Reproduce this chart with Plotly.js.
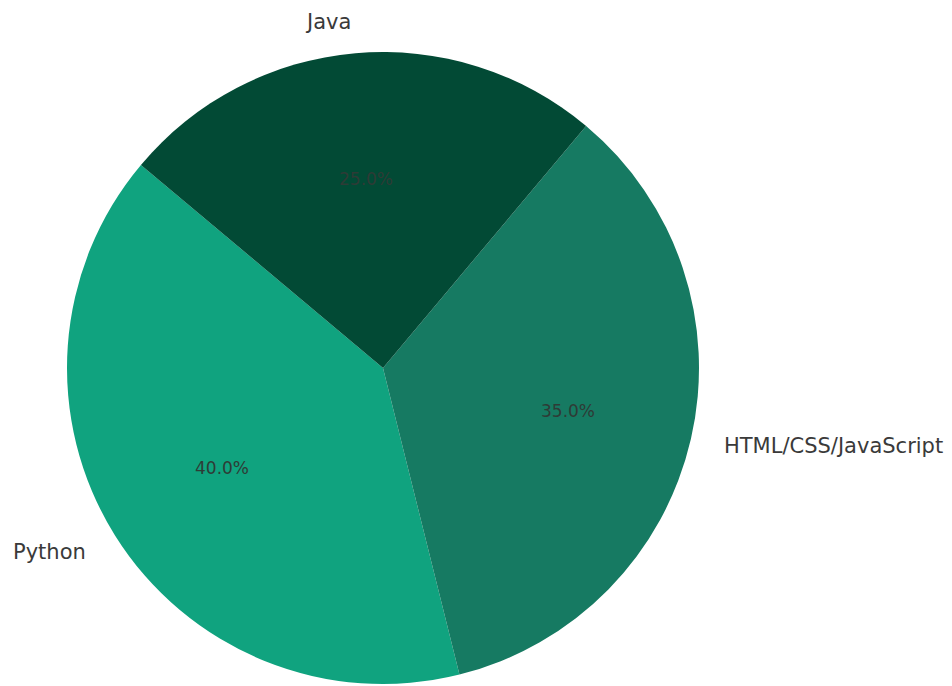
<!DOCTYPE html>
<html>
<head>
<meta charset="utf-8">
<script src="https://cdn.plot.ly/plotly-3.0.1.min.js"></script>
<style>html,body{margin:0;padding:0;background:#fff;}#chart{width:952px;height:686px;}</style>
</head>
<body>
<div id="chart"></div>
<script>
// Data
const labels = ["Python", "HTML/CSS/JavaScript", "Java"];
const values = [40, 35, 25];
const colors = ["#10a37f", "#167a62", "#024a35"];
const startAngle = 140; // matplotlib-style start angle (deg, counter-clockwise from +x)

// Layout geometry
const W = 952, H = 686;
const cx = 383, cy = 368, R = 316;
const domX = [(cx - R) / W, (cx + R) / W];
const domY = [1 - (cy + R) / H, 1 - (cy - R) / H];

const total = values.reduce((a, b) => a + b, 0);
const annotations = [];
let cum = 0;
values.forEach((v, i) => {
  const mid = (startAngle + 360 * (cum + v / 2) / total) * Math.PI / 180;
  cum += v;
  const c = Math.cos(mid), s = Math.sin(mid);
  const lx = cx + 1.1 * R * c, ly = cy - 1.1 * R * s;
  annotations.push({
    x: lx / W, y: 1 - ly / H, xref: "paper", yref: "paper",
    text: labels[i], showarrow: false,
    xanchor: c < 0 ? "right" : "left", yanchor: "middle",
    font: {family: "DejaVu Sans", size: 21, color: "#3a3a3a"}
  });
  const px = cx + 0.6 * R * c, py = cy - 0.6 * R * s;
  annotations.push({
    x: px / W, y: 1 - py / H, xref: "paper", yref: "paper",
    text: (100 * v / total).toFixed(1) + "%", showarrow: false,
    xanchor: "center", yanchor: "middle",
    font: {family: "DejaVu Sans", size: 17, color: "#2e3b36"}
  });
});

// Plotly (counterclockwise): first slice occupies [rotation, rotation+span] clockwise from 12 o'clock
const rotation = -(startAngle - 90) - 360 * values[0] / total;

const trace = {
  type: "pie",
  labels: labels,
  values: values,
  sort: false,
  direction: "counterclockwise",
  rotation: rotation,
  marker: {colors: colors, line: {width: 0}},
  textinfo: "none",
  hoverinfo: "label+percent",
  domain: {x: domX, y: domY}
};

const layout = {
  width: W, height: H,
  margin: {l: 0, r: 0, t: 0, b: 0},
  showlegend: false,
  paper_bgcolor: "#ffffff",
  annotations: annotations
};

Plotly.newPlot("chart", [trace], layout, {displayModeBar: false, staticPlot: true});
</script>
</body>
</html>
